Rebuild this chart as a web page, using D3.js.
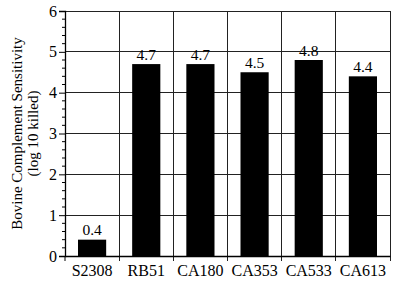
<!DOCTYPE html>
<html><head><meta charset="utf-8">
<script src="https://cdn.jsdelivr.net/npm/d3@7"></script>
<style>html,body{margin:0;padding:0;background:#fff;}svg{display:block;font-family:"Liberation Serif","Times New Roman",serif;}</style>
</head><body><svg id="c" width="400" height="284"></svg>
<script>
const categories = ["S2308","RB51","CA180","CA353","CA533","CA613"];
const values = [0.4,4.7,4.7,4.5,4.8,4.4];
const valueLabels = ["0.4","4.7","4.7","4.5","4.8","4.4"];
const yTicks = [0,1,2,3,4,5,6];

const FS = 16;
const svg = d3.select("#c");
const L = 65, R = 390, T = 11, B = 256;
const x = d3.scaleBand().domain(categories).range([L, R]).padding(0);
const y = d3.scaleLinear().domain([0,6]).range([B, T]);
const bw = x.bandwidth() * 0.52;

// horizontal gridlines
svg.append("g").selectAll("line").data(yTicks.filter(d => d > 0 && d < 6)).join("line")
  .attr("x1", L).attr("x2", R).attr("y1", d => y(d)).attr("y2", d => y(d))
  .attr("stroke", "#222").attr("stroke-width", 1).attr("shape-rendering","crispEdges");
// vertical gridlines at category boundaries (extend below as ticks)
const bounds = categories.slice(1).map(c => x(c));
svg.append("g").selectAll("line").data(bounds).join("line")
  .attr("x1", d => d).attr("x2", d => d).attr("y1", T).attr("y2", B + 5)
  .attr("stroke", "#222").attr("stroke-width", 1).attr("shape-rendering","crispEdges");

// bars
svg.append("g").selectAll("rect").data(values).join("rect")
  .attr("x", (d,i) => x(categories[i]) + (x.bandwidth() - bw)/2)
  .attr("width", bw)
  .attr("y", d => y(d)).attr("height", d => B - y(d))
  .attr("fill", "#000");

// value labels
svg.append("g").selectAll("text").data(values).join("text")
  .attr("x", (d,i) => x(categories[i]) + x.bandwidth()/2)
  .attr("y", d => y(d) - 4.5)
  .attr("text-anchor", "middle").style("font-size", "15.5px").attr("fill", "#000")
  .text((d,i) => valueLabels[i]);

// frame: top and right
svg.append("line").attr("x1", L).attr("x2", R).attr("y1", T).attr("y2", T).attr("stroke","#222").attr("shape-rendering","crispEdges");
svg.append("line").attr("x1", R).attr("x2", R).attr("y1", T).attr("y2", B + 5).attr("stroke","#222").attr("shape-rendering","crispEdges");

// y axis
const yAxis = d3.axisLeft(y).tickValues(yTicks).tickSize(6).tickPadding(2).tickFormat(d3.format("d"));
const gy = svg.append("g").attr("transform", `translate(${L},0)`).call(yAxis);
gy.attr("font-family", null).attr("font-size", null);
gy.select(".domain").attr("stroke","#000").attr("stroke-width",1.3);
gy.selectAll(".tick line").attr("stroke","#000");
gy.selectAll(".tick text").style("font-size", FS + "px").attr("fill","#000");
// minor ticks
const minor = d3.range(0, 6.001, 0.2).filter(v => Math.abs(v - Math.round(v)) > 0.01);
svg.append("g").selectAll("line").data(minor).join("line")
  .attr("x1", L - 3).attr("x2", L).attr("y1", d => y(d)).attr("y2", d => y(d))
  .attr("stroke", "#000").attr("stroke-width", 1);

// x axis
const xAxis = d3.axisBottom(x).tickSize(0).tickPadding(9);
const gx = svg.append("g").attr("transform", `translate(0,${B})`).call(xAxis);
gx.attr("font-family", null).attr("font-size", null);
gx.select(".domain").attr("stroke","#000").attr("stroke-width",1.3);
gx.selectAll(".tick text").style("font-size", FS + "px").attr("fill","#000");
svg.append("line").attr("x1", L).attr("x2", L).attr("y1", B).attr("y2", B + 5).attr("stroke","#000");

// y label
const ly = svg.append("text").attr("transform", `translate(22.5,${(T+B)/2}) rotate(-90)`)
  .attr("text-anchor","middle").style("font-size", "15px").attr("fill","#000");
ly.append("tspan").attr("x",0).attr("dy",-1).text("Bovine Complement Sensitivity");
ly.append("tspan").attr("x",0).attr("dy",16).text("(log 10 killed)");
</script></body></html>
